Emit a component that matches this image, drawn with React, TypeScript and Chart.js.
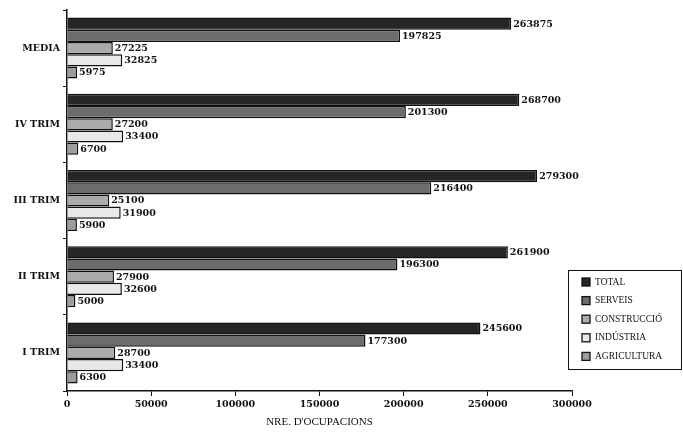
import React, { useEffect, useRef } from "react";
import { Chart, registerables } from "chart.js";

Chart.register(...registerables);

const categories = ["MEDIA", "IV TRIM", "III TRIM", "II TRIM", "I TRIM"];
const seriesNames = ["TOTAL", "SERVEIS", "CONSTRUCCIÓ", "INDÚSTRIA", "AGRICULTURA"];
const total = [263875, 268700, 279300, 261900, 245600];
const serveis = [197825, 201300, 216400, 196300, 177300];
const construccio = [27225, 27200, 25100, 27900, 28700];
const industria = [32825, 33400, 31900, 32600, 33400];
const agricultura = [5975, 6700, 5900, 5000, 6300];
const seriesColors = ["#262626", "#6c6c6c", "#ababab", "#e8e8e8", "#9c9c9c"];
const xTicks = [0, 50000, 100000, 150000, 200000, 250000, 300000];
const xTitle = "NRE. D'OCUPACIONS";

const valueLabelPlugin = {
  id: "valueLabels",
  afterDatasetsDraw(chart: any) {
    const ctx = chart.ctx;
    ctx.save();
    ctx.font = "bold 9.5px 'DejaVu Serif'";
    ctx.fillStyle = "#111";
    ctx.textBaseline = "middle";
    ctx.textAlign = "left";
    chart.data.datasets.forEach((ds: any, di: number) => {
      const meta = chart.getDatasetMeta(di);
      meta.data.forEach((bar: any, i: number) => {
        ctx.fillText(String(ds.data[i]), bar.x + 2, bar.y + 0.5);
      });
    });
    ctx.restore();
  },
};

const legendBoxPlugin = {
  id: "legendBox",
  afterDraw(chart: any) {
    const ctx = chart.ctx;
    const left = 568;
    const top = 270;
    const w = 113;
    const h = 99;
    ctx.save();
    ctx.strokeStyle = "#111";
    ctx.lineWidth = 1;
    ctx.strokeRect(left + 0.5, top + 0.5, w, h);
    ctx.font = "9.5px 'Liberation Serif'";
    ctx.textBaseline = "middle";
    ctx.textAlign = "left";
    chart.data.datasets.forEach((ds: any, i: number) => {
      const cy = top + 12 + i * 18.6;
      ctx.fillStyle = ds.backgroundColor;
      ctx.fillRect(left + 14, cy - 4, 8, 8);
      ctx.strokeStyle = "#111";
      ctx.lineWidth = 1.3;
      ctx.strokeRect(left + 14, cy - 4, 8, 8);
      ctx.fillStyle = "#111";
      ctx.fillText(ds.label, left + 27, cy);
    });
    ctx.restore();
  },
};

export default function App() {
  const ref = useRef<HTMLCanvasElement>(null);
  useEffect(() => {
    if (!ref.current) return;
    const values = [total, serveis, construccio, industria, agricultura];
    const chart = new Chart(ref.current, {
      type: "bar",
      data: {
        labels: categories,
        datasets: seriesNames.map((name, i) => ({
          label: name,
          data: values[i],
          backgroundColor: seriesColors[i],
          borderColor: "#111",
          borderWidth: 1.5,
          barPercentage: 1.0,
          categoryPercentage: 0.8,
        })),
      },
      options: {
        indexAxis: "y",
        responsive: false,
        animation: false,
        layout: { padding: { top: 10, right: 111, left: 0, bottom: 0 } },
        plugins: {
          legend: { display: false },
          tooltip: { enabled: false },
        },
        scales: {
          x: {
            min: 0,
            max: 300000,
            afterBuildTicks: (scale: any) => {
              scale.ticks = xTicks.map((v) => ({ value: v }));
            },
            afterFit: (scale: any) => {
              scale.height = 41;
            },
            grid: {
              display: true,
              drawOnChartArea: false,
              drawTicks: true,
              tickLength: 5,
              color: "#111",
            },
            border: { display: true, color: "#111", width: 1.5 },
            ticks: {
              color: "#111",
              padding: 3,
              maxRotation: 0,
              font: { family: "'DejaVu Serif'", size: 9.5, weight: "bold" },
              callback: (v: any) => String(v),
            },
            title: {
              display: true,
              text: xTitle,
              color: "#111",
              padding: { top: 2, bottom: 3 },
              font: { family: "'Liberation Serif'", size: 11 },
            },
          },
          y: {
            afterFit: (scale: any) => {
              scale.width = 67;
            },
            grid: {
              display: true,
              drawOnChartArea: false,
              drawTicks: true,
              tickLength: 4,
              offset: true,
              color: "#111",
            },
            border: { display: true, color: "#111", width: 1.5 },
            ticks: {
              color: "#111",
              padding: 3,
              font: { family: "'DejaVu Serif'", size: 9.5, weight: "bold" },
            },
          },
        },
      },
      plugins: [valueLabelPlugin, legendBoxPlugin],
    });
    return () => chart.destroy();
  }, []);
  return (
    <div style={{ position: "fixed", left: 0, top: 0, width: 683, height: 432, background: "#fff" }}>
      <canvas ref={ref} width={683} height={432} />
    </div>
  );
}
